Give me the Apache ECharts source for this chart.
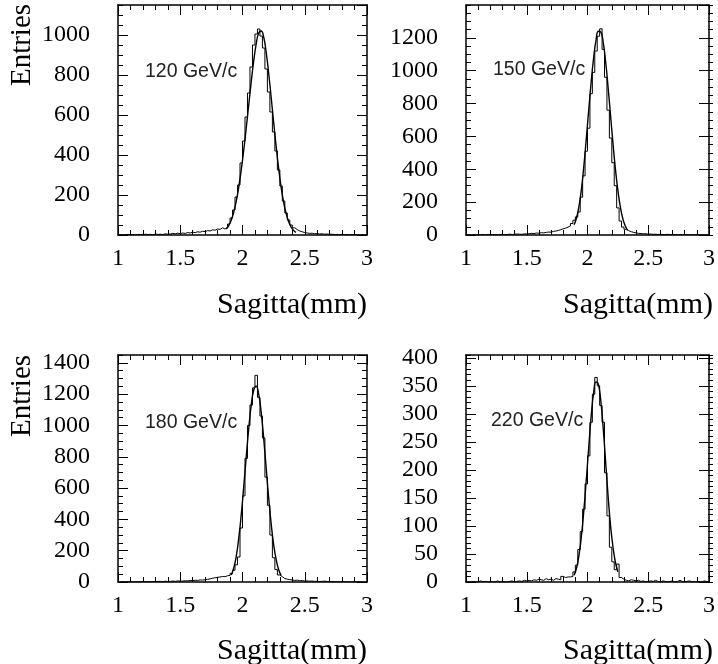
<!DOCTYPE html>
<html>
<head>
<meta charset="utf-8">
<script src="https://cdn.jsdelivr.net/npm/echarts@6/dist/echarts.min.js"></script>
<style>
html, body { margin: 0; padding: 0; background: #fff; }
#main { width: 718px; height: 664px; }
</style>
</head>
<body>
<div id="main"></div>
<script>
// histogram binning: 100 bins of 0.02 from 1 to 3
var binStart = 1.0;
var binWidth = 0.02;

// entries per bin
var h120 = [
    2,0,1,3,1,2,0,3,2,1,4,2,3,1,5,3,4,2,6,4,5,8,6,9,7,
    10,8,12,10,14,12,16,14,19,17,22,20,26,24,30,28,36,30,38,55,85,125,190,250,360,
    470,590,710,840,950,1005,1030,995,935,830,715,615,515,420,325,245,170,110,75,50,36,27,20,16,12,
    10,8,9,6,7,5,6,4,5,3,4,2,3,2,3,1,2,1,2,1,1,0,1,0,1
];
var h150 = [
    1,0,2,0,1,1,3,0,2,1,2,3,1,2,4,2,3,5,3,4,6,5,4,7,6,
    8,10,9,12,11,14,13,16,18,17,22,24,28,32,38,42,48,55,70,90,110,140,230,360,510,
    650,860,990,1120,1210,1255,1130,960,760,590,440,300,165,85,48,35,26,20,16,13,10,9,7,8,5,
    6,4,5,3,4,2,3,4,2,3,1,2,2,1,3,1,2,0,1,1,0,1,0,1,0
];
var h180 = [
    0,1,0,2,1,0,1,2,0,3,1,2,1,3,2,4,3,2,5,3,4,6,4,7,5,
    6,8,7,10,9,11,10,13,12,15,17,20,24,27,30,32,35,34,40,42,55,75,110,160,345,
    550,790,1000,1130,1240,1320,1180,1060,920,670,490,300,155,80,45,34,22,18,15,13,10,12,8,9,6,
    7,5,6,4,5,3,4,6,3,2,3,1,2,1,2,3,1,0,1,2,0,1,0,0,1
];
var h220 = [
    0,0,1,0,0,2,0,1,0,0,1,0,2,0,1,0,0,1,2,0,1,2,1,3,2,
    3,2,4,3,5,4,3,6,4,5,3,6,5,4,10,8,9,9,10,18,30,58,90,130,175,
    225,285,335,365,350,315,285,195,118,62,36,22,32,8,5,3,2,4,3,2,3,1,2,0,1,
    2,1,3,1,0,2,1,0,1,2,0,1,3,1,0,1,2,0,1,0,1,0,2,1,0
];

// gaussian fit curves, values at bin centres starting from the given bin
var fit120Start = 43;
var fit120 = [30,48,75,115,170,240,325,425,535,650,765,870,955,1010,1020,990,915,810,690,565,445,335,240,165,108,68,40,23,13];
var fit150Start = 44;
var fit150 = [62,105,175,280,420,585,760,930,1075,1185,1240,1235,1170,1050,895,725,555,400,272,172,102,56,29];
var fit180Start = 45;
var fit180 = [45,90,165,280,430,610,800,980,1130,1225,1250,1200,1085,920,730,540,375,240,145,80,42];
var fit220Start = 44;
var fit220 = [12,25,48,82,128,182,240,295,337,357,352,322,272,212,152,100,62,35,18];

var labels = ['120 GeV/c', '150 GeV/c', '180 GeV/c', '220 GeV/c'];
var yMax = [1150, 1400, 1450, 405];
var yMajor = [200, 200, 200, 50];
var yMinor = [50, 50, 50, 10];

var serif = '"Liberation Serif", "Times New Roman", serif';

function histData(vals) {
    var out = [];
    for (var i = 0; i < vals.length; i++) {
        out.push([binStart + i * binWidth, vals[i]]);
    }
    out.push([binStart + vals.length * binWidth, vals[vals.length - 1]]);
    return out;
}

function fitData(start, vals) {
    var out = [];
    for (var i = 0; i < vals.length; i++) {
        out.push([binStart + (start + i + 0.5) * binWidth, vals[i]]);
    }
    return out;
}

function plain(v) {
    return String(v);
}

var myChart = echarts.init(document.getElementById('main'));

var boxes = [
    {left: 118, top: 5, width: 249, height: 230},
    {left: 466, top: 5, width: 247, height: 230},
    {left: 118, top: 355, width: 249, height: 227},
    {left: 466, top: 355, width: 247, height: 227}
];

var grids = [], xAxes = [], yAxes = [], series = [];
var hists = [h120, h150, h180, h220];
var fits = [[fit120Start, fit120], [fit150Start, fit150], [fit180Start, fit180], [fit220Start, fit220]];
var lineBlack = {color: '#000', width: 1.5};
var tickStyle = {color: '#000', width: 1};

for (var g = 0; g < 4; g++) {
    // grid 2g holds the data and major ticks, grid 2g+1 is an overlay for the y minor ticks
    grids.push(boxes[g]);
    grids.push(boxes[g]);
    var gMain = 2 * g, gMinor = 2 * g + 1;

    var xi = xAxes.length;
    ['bottom', 'top'].forEach(function (pos) {
        xAxes.push({
            type: 'value', gridIndex: gMain, position: pos,
            min: 1, max: 3, interval: 0.5,
            axisLine: {show: true, onZero: false, lineStyle: lineBlack},
            axisTick: {show: true, inside: true, length: 10, lineStyle: tickStyle},
            minorTick: {show: true, splitNumber: 5, length: 5, lineStyle: tickStyle},
            axisLabel: {show: pos === 'bottom', formatter: plain, color: '#000', fontFamily: serif, fontSize: 24, margin: 12},
            splitLine: {show: false}
        });
    });
    xAxes.push({type: 'value', gridIndex: gMinor, min: 1, max: 3, show: false});

    var yi = yAxes.length;
    ['left', 'right'].forEach(function (pos) {
        yAxes.push({
            type: 'value', gridIndex: gMain, position: pos,
            min: 0, max: yMax[g], interval: yMajor[g],
            axisLine: {show: true, onZero: false, lineStyle: lineBlack},
            axisTick: {show: true, inside: true, length: 10, lineStyle: tickStyle},
            axisLabel: {show: pos === 'left', showMaxLabel: false, formatter: plain, color: '#000', fontFamily: serif, fontSize: 24, margin: 28},
            splitLine: {show: false}
        });
    });
    ['left', 'right'].forEach(function (pos) {
        yAxes.push({
            type: 'value', gridIndex: gMinor, position: pos,
            min: 0, max: yMax[g], interval: yMinor[g],
            axisLine: {show: false},
            axisTick: {show: true, inside: true, length: 5, lineStyle: tickStyle},
            axisLabel: {show: false},
            splitLine: {show: false}
        });
    });

    series.push({
        type: 'line', xAxisIndex: xi, yAxisIndex: yi,
        data: histData(hists[g]), step: 'end',
        showSymbol: false, symbol: 'none',
        lineStyle: {color: '#000', width: 1}
    });
    series.push({
        type: 'line', xAxisIndex: xi, yAxisIndex: yi,
        data: fitData(fits[g][0], fits[g][1]), smooth: true,
        showSymbol: false, symbol: 'none',
        lineStyle: {color: '#000', width: 1.4}
    });
}

var graphics = [];
[45, 396].forEach(function (y) {
    graphics.push({
        type: 'text', x: 22, y: y, rotation: Math.PI / 2,
        style: {text: 'Entries', fill: '#000', font: '29px ' + serif, align: 'center', verticalAlign: 'middle'}
    });
});
[[367, 305], [713, 305], [367, 651], [713, 651]].forEach(function (p) {
    graphics.push({
        type: 'text', x: p[0], y: p[1],
        style: {text: 'Sagitta(mm)', fill: '#000', font: '30px ' + serif, align: 'right', verticalAlign: 'middle'}
    });
});
[[145, 72], [493, 70], [145, 423], [491, 421]].forEach(function (p, i) {
    graphics.push({
        type: 'text', x: p[0], y: p[1],
        style: {text: labels[i], fill: '#222', font: '19.5px "Liberation Sans", Arial, sans-serif', align: 'left', verticalAlign: 'middle'}
    });
});

var option = {
    animation: false,
    backgroundColor: '#fff',
    grid: grids,
    xAxis: xAxes,
    yAxis: yAxes,
    series: series,
    graphic: graphics
};

myChart.setOption(option);
</script>
</body>
</html>
